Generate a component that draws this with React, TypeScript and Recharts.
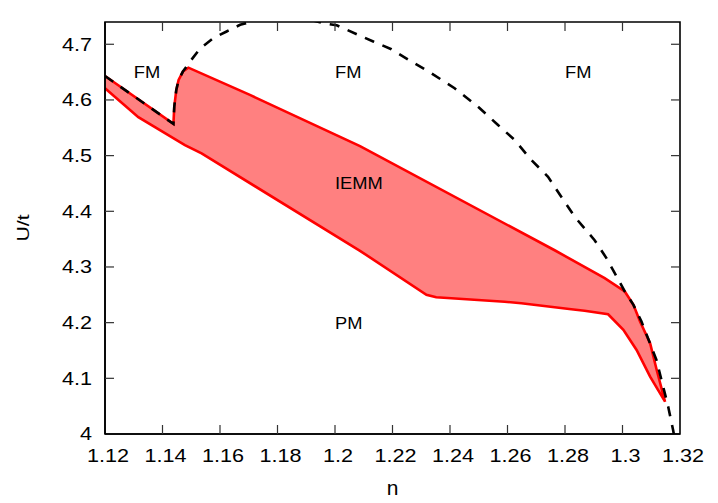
import React from 'react';
import { ComposedChart, XAxis, YAxis, Area, Line, Scatter, ReferenceArea } from 'recharts';

const xTicks = [1.12, 1.14, 1.16, 1.18, 1.2, 1.22, 1.24, 1.26, 1.28, 1.3, 1.32];
const yTicks = [4, 4.1, 4.2, 4.3, 4.4, 4.5, 4.6, 4.7];
const xDomain: [number, number] = [1.12, 1.32];
const yDomain: [number, number] = [4, 4.74];

// upper boundary of the IEMM region (n, U/t), left to right
const iemmUpper: [number, number][] = [
  [1.12, 4.643], [1.1438, 4.557], [1.1441, 4.588], [1.1448, 4.618], [1.1456, 4.636],
  [1.1471, 4.651], [1.149, 4.658], [1.1704, 4.609], [1.2087, 4.517], [1.2764, 4.33],
  [1.2938, 4.28], [1.3008, 4.256], [1.3038, 4.232], [1.3061, 4.202], [1.3096, 4.163],
  [1.3119, 4.115], [1.3148, 4.058],
];

// lower boundary of the IEMM region, left to right
const iemmLower: [number, number][] = [
  [1.12, 4.621], [1.1316, 4.569], [1.1478, 4.519], [1.1536, 4.504], [1.2087, 4.329],
  [1.2318, 4.25], [1.2352, 4.2455], [1.259, 4.2376], [1.2648, 4.2347], [1.2822, 4.224],
  [1.2868, 4.2214], [1.295, 4.215], [1.3003, 4.187], [1.3049, 4.151], [1.3096, 4.103],
  [1.3148, 4.058],
];

// FM boundary (dashed)
const fmBoundary: [number, number][] = [
  [1.12, 4.643], [1.1438, 4.557], [1.1441, 4.588], [1.1448, 4.618], [1.1456, 4.636],
  [1.1471, 4.651], [1.1496, 4.669], [1.153, 4.692], [1.1577, 4.711], [1.1623, 4.723],
  [1.167, 4.735], [1.174, 4.745], [1.181, 4.749], [1.189, 4.747], [1.196, 4.738],
  [1.2006, 4.734], [1.2041, 4.726], [1.2133, 4.705], [1.2196, 4.691], [1.2266, 4.669],
  [1.2335, 4.648], [1.2416, 4.621], [1.2497, 4.588], [1.2567, 4.555], [1.2625, 4.528],
  [1.2683, 4.492], [1.2741, 4.462], [1.2787, 4.426], [1.2834, 4.39], [1.2903, 4.348],
  [1.2944, 4.316], [1.2973, 4.289], [1.3008, 4.256], [1.3038, 4.232], [1.3066, 4.202],
  [1.3118, 4.133], [1.3159, 4.049], [1.3176, 4.007], [1.3182, 3.99],
];

const regionNames = ['FM', 'FM', 'FM', 'IEMM', 'PM'];
const regionN = [1.13, 1.2, 1.28, 1.2, 1.2];
const regionU = [4.65, 4.65, 4.65, 4.45, 4.2];

const regionData = [...iemmUpper, ...iemmLower.slice().reverse()].map(([x, y]) => ({ x, y }));
const fmData = fmBoundary.map(([x, y]) => ({ x, y }));
const labelData = regionNames.map((name, i) => ({ x: regionN[i], y: regionU[i], name }));
const xTickData = xTicks.slice(1, -1).map((x) => ({ x, y: yDomain[0] }));
const yTickData = yTicks.slice(1).map((y) => ({ x: xDomain[0], y }));

const FONT = '"Liberation Sans", Arial, Helvetica, sans-serif';
const TICK_LEN = 9;
const TICK_W = 1.2;
const TICK_FILL = '#333';
const PLOT_TOP = 22;
const PLOT_RIGHT = 680;

const fmt = (v: number) => String(Number(v.toFixed(2)));

// inward tick marks at bottom and top, drawn as thin filled rects
const XTickMark = (props: any) => {
  const { cx, cy } = props;
  if (cx == null || cy == null) return null;
  return (
    <g>
      <rect x={cx - TICK_W / 2} y={cy - TICK_LEN} width={TICK_W} height={TICK_LEN} fill={TICK_FILL} />
      <rect x={cx - TICK_W / 2} y={PLOT_TOP} width={TICK_W} height={TICK_LEN} fill={TICK_FILL} />
    </g>
  );
};

// inward tick marks at left and right
const YTickMark = (props: any) => {
  const { cx, cy } = props;
  if (cx == null || cy == null) return null;
  return (
    <g>
      <rect x={cx} y={cy - TICK_W / 2} width={TICK_LEN} height={TICK_W} fill={TICK_FILL} />
      <rect x={PLOT_RIGHT - TICK_LEN} y={cy - TICK_W / 2} width={TICK_LEN} height={TICK_W} fill={TICK_FILL} />
    </g>
  );
};

const XTick = (props: any) => {
  const { x, y, payload } = props;
  return (
    <text
      transform={`translate(${x + 3},${y}) scale(1.2,1)`}
      textAnchor="middle"
      dy="0.71em"
      fontSize={18}
      fontFamily={FONT}
      fill="#000"
    >
      {fmt(payload.value)}
    </text>
  );
};

const YTick = (props: any) => {
  const { x, y, payload } = props;
  return (
    <text
      transform={`translate(${x},${y}) scale(1.2,1)`}
      textAnchor="end"
      dy="0.355em"
      fontSize={18}
      fontFamily={FONT}
      fill="#000"
    >
      {fmt(payload.value)}
    </text>
  );
};

const RegionLabel = (props: any) => {
  const { cx, cy, payload } = props;
  if (cx == null || cy == null) return null;
  return (
    <text
      transform={`translate(${cx},${cy}) scale(1.11,1)`}
      textAnchor="start"
      dy="0.355em"
      fontSize={16.5}
      fontFamily={FONT}
      fill="#000"
    >
      {payload.name}
    </text>
  );
};

const XTitle = (props: any) => {
  const vb = props.viewBox || { x: 105, y: 434, width: 575, height: 69 };
  const cx = vb.x + vb.width / 2;
  const cy = vb.y + 60.5;
  return (
    <text x={cx} y={cy} textAnchor="middle" fontSize={21} fontFamily={FONT} fill="#000">
      n
    </text>
  );
};

const YTitle = (props: any) => {
  const vb = props.viewBox || { x: 0, y: 22, width: 105, height: 412 };
  const cx = 28.5;
  const cy = vb.y + vb.height / 2;
  return (
    <text
      transform={`translate(${cx},${cy}) rotate(-90) scale(1.25,1)`}
      textAnchor="middle"
      fontSize={17}
      fontFamily={FONT}
      fill="#000"
    >
      U/t
    </text>
  );
};

export default function App() {
  return (
    <div style={{ position: 'absolute', left: 0, top: 0, width: 718, height: 503, background: '#fff' }}>
      <ComposedChart
        width={718}
        height={503}
        data={regionData}
        margin={{ top: 22, right: 38, bottom: 0, left: 0 }}
      >
        <Area
          dataKey="y"
          type="linear"
          fill="#ff8080"
          fillOpacity={1}
          stroke="#ff0000"
          strokeWidth={2.6}
          dot={false}
          activeDot={false}
          isAnimationActive={false}
        />
        <Line
          data={fmData}
          dataKey="y"
          type="linear"
          stroke="#000"
          strokeWidth={2.6}
          strokeDasharray="10 9"
          dot={false}
          activeDot={false}
          isAnimationActive={false}
        />
        <ReferenceArea
          x1={xDomain[0]}
          x2={xDomain[1]}
          y1={yDomain[0]}
          y2={yDomain[1]}
          fill="#ffffff"
          fillOpacity={0}
          stroke="#000000"
          strokeWidth={1.6}
          strokeOpacity={1}
          ifOverflow="visible"
        />
        <Scatter data={xTickData} dataKey="y" shape={XTickMark} isAnimationActive={false} />
        <Scatter data={yTickData} dataKey="y" shape={YTickMark} isAnimationActive={false} />
        <Scatter data={labelData} dataKey="y" shape={RegionLabel} isAnimationActive={false} />
        <XAxis
          dataKey="x"
          type="number"
          domain={xDomain}
          ticks={xTicks}
          interval={0}
          allowDataOverflow
          height={69}
          axisLine={{ stroke: '#000', strokeWidth: 1.6 }}
          tickLine={false}
          tickSize={0}
          tickMargin={15}
          tick={XTick}
          label={{ value: 'n', content: XTitle }}
        />
        <YAxis
          type="number"
          domain={yDomain}
          ticks={yTicks}
          interval={0}
          allowDataOverflow
          width={105}
          axisLine={{ stroke: '#000', strokeWidth: 1.6 }}
          tickLine={false}
          tickSize={0}
          tickMargin={13}
          tick={YTick}
          label={{ value: 'U/t', content: YTitle }}
        />
      </ComposedChart>
    </div>
  );
}
